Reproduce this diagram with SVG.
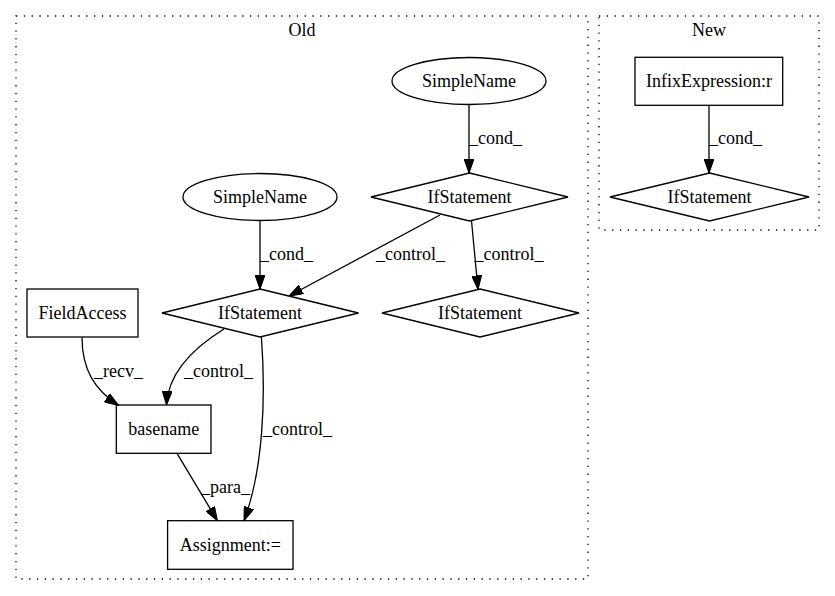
<svg xmlns="http://www.w3.org/2000/svg" width="835" height="596" viewBox="0 0 835 596">
<style>
text{font-family:"Liberation Serif","Times New Roman",serif;font-size:18px;fill:#000}
.c{text-anchor:middle}
.cl{fill:none;stroke:#000;stroke-width:1.3;stroke-dasharray:1.3,6.5}
.n{fill:none;stroke:#000;stroke-width:1.3}
.e{fill:none;stroke:#000;stroke-width:1.3;marker-end:url(#ah)}
</style>
<defs>
<marker id="ah" viewBox="0 0 14 10" refX="14" refY="5" markerWidth="14" markerHeight="10" markerUnits="userSpaceOnUse" orient="auto">
<path d="M0,0 L14,5 L0,10 z" fill="#000" stroke="#000" stroke-width="1"/>
</marker>
</defs>
<rect width="835" height="596" fill="#fff"/>
<g id="cluster_old">
<rect class="cl" x="16" y="16" width="572" height="563"/>
<text class="c" x="302" y="36">Old</text>
</g>
<g id="cluster_new">
<rect class="cl" x="599" y="16" width="220" height="214"/>
<text class="c" x="709" y="36">New</text>
</g>
<g id="edges">
<path class="e" d="M469,104.5 L469,173"/>
<text x="469" y="144">_cond_</text>
<path class="e" d="M260,220.5 L260,289"/>
<text x="260" y="260">_cond_</text>
<path class="e" d="M440,215 L289,296"/>
<text x="376" y="260">_control_</text>
<path class="e" d="M471.5,220.7 L478,289.5"/>
<text x="474.5" y="260">_control_</text>
<path class="e" d="M82,337.3 C82,370 95,390 118.6,405.5"/>
<text x="94" y="377">_recv_</text>
<path class="e" d="M224,329 C190,350 168,375 166.5,405"/>
<text x="184" y="377">_control_</text>
<path class="e" d="M261.4,336.7 C266,400 263,470 244,520.7"/>
<text x="263" y="435">_control_</text>
<path class="e" d="M177,453.3 L217.4,520.7"/>
<text x="201" y="493">_para_</text>
<path class="e" d="M709,105.3 L709,173"/>
<text x="709" y="144">_cond_</text>
</g>
<g id="n_simplename1">
<ellipse class="n" cx="469" cy="81" rx="77" ry="23.5"/>
<text class="c" x="469" y="87">SimpleName</text>
</g>
<g id="n_if_top">
<polygon class="n" points="469.5,173 568,197 469.5,221 371,197"/>
<text class="c" x="469.5" y="203">IfStatement</text>
</g>
<g id="n_simplename2">
<ellipse class="n" cx="260" cy="197" rx="77" ry="23.5"/>
<text class="c" x="260" y="203">SimpleName</text>
</g>
<g id="n_if_mid">
<polygon class="n" points="260,289 358.5,313 260,337 162,313"/>
<text class="c" x="260" y="319">IfStatement</text>
</g>
<g id="n_if_right">
<polygon class="n" points="480,289 579,313 480,337 382,313"/>
<text class="c" x="480" y="319">IfStatement</text>
</g>
<g id="n_fieldaccess">
<rect class="n" x="27" y="289" width="111" height="48"/>
<text class="c" x="82.5" y="319">FieldAccess</text>
</g>
<g id="n_basename">
<rect class="n" x="116.3" y="405" width="94.7" height="48.3"/>
<text class="c" x="163.7" y="435">basename</text>
</g>
<g id="n_assignment">
<rect class="n" x="167.6" y="520.7" width="125.4" height="48.6"/>
<text class="c" x="230.3" y="551">Assignment:=</text>
</g>
<g id="n_infix">
<rect class="n" x="635" y="57.3" width="147.7" height="48"/>
<text class="c" x="709" y="87">InfixExpression:r</text>
</g>
<g id="n_if_new">
<polygon class="n" points="709.5,173 809,197 709.5,221 610,197"/>
<text class="c" x="709.5" y="203">IfStatement</text>
</g>
</svg>
